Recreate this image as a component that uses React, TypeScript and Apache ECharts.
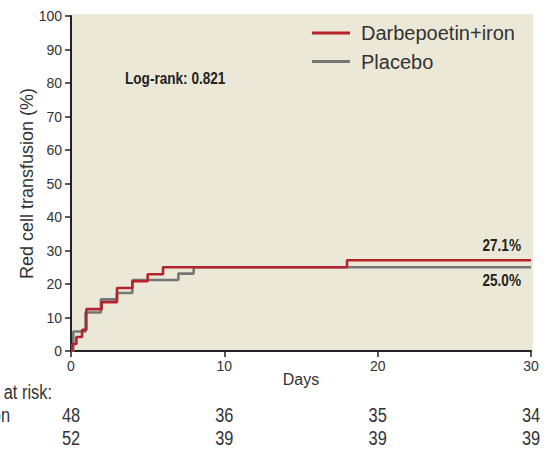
import React, { useEffect, useRef } from "react";
import * as echarts from "echarts";

// Kaplan-Meier style cumulative incidence (step) data
const darbeDays = [0, 0.08, 0.35, 0.72, 1, 2, 3, 4, 5, 6, 18, 30];
const darbeValues = [0, 2.1, 4.2, 6.3, 12.5, 14.6, 18.8, 20.8, 22.9, 25.0, 27.1, 27.1];
const placeboDays = [0, 0.15, 0.95, 1.95, 3, 4, 7, 8, 30];
const placeboValues = [0, 5.8, 11.5, 15.4, 17.3, 21.2, 23.1, 25.0, 25.0];

const seriesNames = ["Darbepoetin+iron", "Placebo"];
const riskDays = [0, 10, 20, 30];
const riskDarbe = [48, 36, 35, 34];
const riskPlacebo = [52, 39, 39, 39];
const endLabels = ["27.1%", "25.0%"];
const logRankText = "Log-rank: 0.821";
const riskTitle = "Number at risk:";

const RED = "#B4232B";
const GRAY = "#767676";
const BG = "#ECE8D7";
const AXIS = "#222";
const TEXT = "#333";
const SANS = "'Liberation Sans', Arial, sans-serif";
const NARROW_SCALE = 0.8;

const pairs = (xs: number[], ys: number[]) => xs.map((x, i) => [x, ys[i]]);

export default function App() {
  const ref = useRef<HTMLDivElement>(null);

  useEffect(() => {
    if (!ref.current) return;
    const chart = echarts.init(ref.current, undefined, { renderer: "svg" });

    chart.setOption({
      animation: false,
      grid: { left: 71, right: 18, top: 16, bottom: 101 },
      legend: {
        data: seriesNames,
        orient: "vertical",
        left: 312,
        top: 23,
        padding: 0,
        itemWidth: 38,
        itemHeight: 3,
        itemGap: 8.5,
        icon: "rect",
        textStyle: {
          fontSize: 20,
          fontFamily: SANS,
          color: TEXT,
          lineHeight: 20,
          padding: [0, 0, 0, 6],
        },
      },
      xAxis: {
        type: "value",
        min: 0,
        max: 30,
        interval: 10,
        name: "Days",
        nameLocation: "middle",
        nameGap: 20,
        nameMoveOverlap: false,
        nameTextStyle: { fontSize: 16, fontFamily: SANS, color: TEXT },
        axisLine: { show: true, lineStyle: { color: AXIS, width: 2 } },
        axisTick: { show: true, length: 6, lineStyle: { color: AXIS, width: 1.5 } },
        splitLine: { show: false },
        axisLabel: { margin: 8, fontSize: 14, fontFamily: SANS, color: TEXT },
      },
      yAxis: {
        type: "value",
        min: 0,
        max: 100,
        interval: 10,
        name: "Red cell transfusion (%)",
        nameLocation: "middle",
        nameGap: 35,
        nameMoveOverlap: false,
        nameTextStyle: { fontSize: 18, fontFamily: SANS, color: TEXT },
        axisLine: { show: true, lineStyle: { color: AXIS, width: 2 } },
        axisTick: { show: true, length: 6, lineStyle: { color: AXIS, width: 1.5 } },
        splitLine: { show: false },
        axisLabel: { margin: 9, fontSize: 14, fontFamily: SANS, color: TEXT },
      },
      series: [
        {
          name: seriesNames[1],
          type: "line",
          step: "end",
          showSymbol: false,
          symbol: "none",
          z: 2,
          data: pairs(placeboDays, placeboValues),
          itemStyle: { color: GRAY },
          lineStyle: { color: GRAY, width: 2.6 },
        },
        {
          name: seriesNames[0],
          type: "line",
          step: "end",
          showSymbol: false,
          symbol: "none",
          z: 3,
          data: pairs(darbeDays, darbeValues),
          itemStyle: { color: RED },
          lineStyle: { color: RED, width: 2.6 },
        },
      ],
    });

    const boldText = (text: string, x: number, y: number, align: string) => ({
      type: "text",
      x,
      y,
      scaleX: NARROW_SCALE,
      style: {
        text,
        fontSize: 17,
        fontWeight: "bold",
        fontFamily: SANS,
        fill: "#222",
        align,
        verticalAlign: "middle",
      },
    });

    const riskText = (text: string, x: number, y: number, align: string) => ({
      type: "text",
      x,
      y,
      scaleX: 0.78,
      style: {
        text,
        fontSize: 21,
        fontFamily: SANS,
        fill: TEXT,
        align,
        verticalAlign: "middle",
      },
    });

    const riskNumbers: any[] = [];
    riskDays.forEach((d, i) => {
      const px = chart.convertToPixel({ xAxisIndex: 0 }, d) as number;
      riskNumbers.push(riskText(String(riskDarbe[i]), px, 415, "center"));
      riskNumbers.push(riskText(String(riskPlacebo[i]), px, 438, "center"));
    });

    chart.setOption({
      graphic: [
        {
          type: "rect",
          z: -10,
          silent: true,
          shape: { x: 71, y: 14, width: 462, height: 337 },
          style: { fill: BG },
        },
        boldText(logRankText, 125, 78, "left"),
        boldText(endLabels[0], 521, 245, "right"),
        boldText(endLabels[1], 521, 280, "right"),
        riskText(riskTitle, 52, 392, "right"),
        riskText(seriesNames[0], 10, 415, "right"),
        ...riskNumbers,
      ],
    });

    return () => chart.dispose();
  }, []);

  return (
    <div
      ref={ref}
      style={{ position: "absolute", left: 0, top: 0, width: 549, height: 452 }}
    />
  );
}
